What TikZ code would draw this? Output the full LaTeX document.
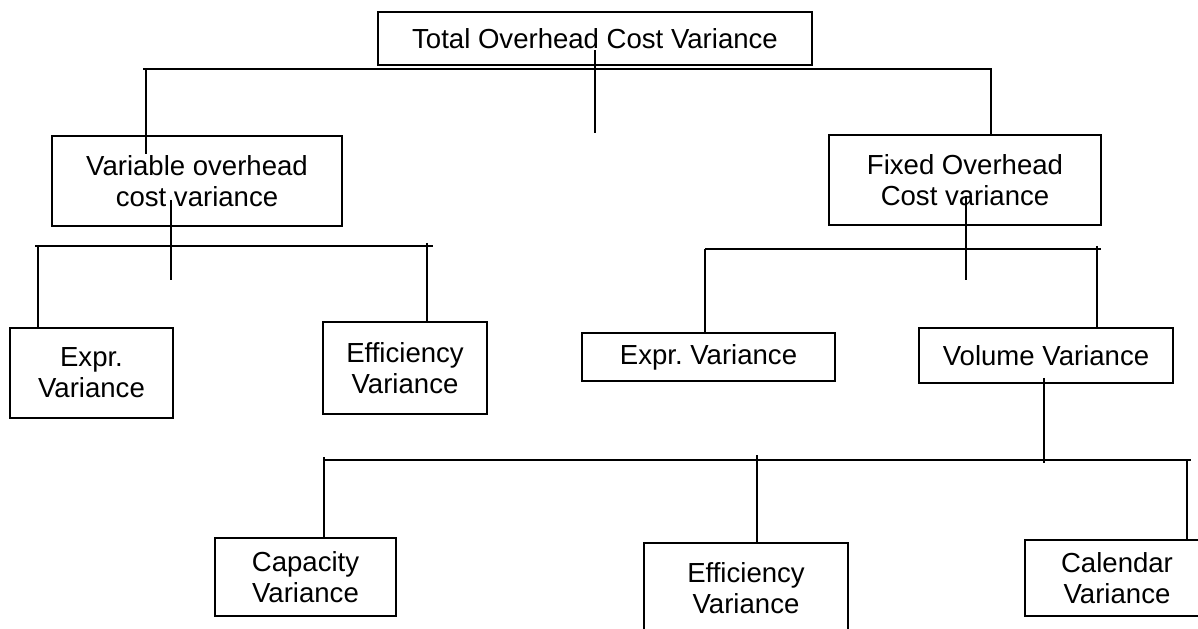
\documentclass[tikz,border=0pt]{standalone}
\usepackage{fontspec}
\setmainfont{Liberation Sans}
\usetikzlibrary{calc}
\frenchspacing

\begin{document}
\begin{tikzpicture}[
  x={(0.025cm,0cm)},
  y={(0cm,-0.025cm)},
  line width=1.3pt,
  font=\fontsize{19.6pt}{22pt}\selectfont,
  box/.style={draw, align=center, inner sep=0pt}
]
  \path[use as bounding box, clip] (0,0) rectangle (1198,629);

  % boxes
  \node[box, minimum width=10.85cm, minimum height=1.33cm] (total) at (595,38.5) {Total Overhead Cost Variance};
  \node[box, minimum width=7.25cm, minimum height=2.25cm] (varoh) at (197,181) {Variable overhead\\cost variance};
  \node[box, minimum width=6.8cm, minimum height=2.25cm] (fixoh) at (965,180) {Fixed Overhead\\Cost variance};
  \node[box, minimum width=4.08cm, minimum height=2.25cm] (vexpr) at (91.5,373) {Expr.\\Variance};
  \node[box, minimum width=4.1cm, minimum height=2.3cm] (veff) at (405,368) {Efficiency\\Variance};
  \node[box, minimum width=6.33cm, minimum height=1.2cm] (fexpr) at (708.5,357) {Expr. Variance};
  \node[box, minimum width=6.35cm, minimum height=1.38cm] (fvol) at (1046,355.5) {Volume Variance};
  \node[box, minimum width=4.53cm, minimum height=1.95cm] (capvar) at (305.5,577) {Capacity\\Variance};
  \node[box, minimum width=5.1cm, minimum height=2.25cm] (effvar) at (746,588) {Efficiency\\Variance};
  \node[box, minimum width=4.6cm, minimum height=1.9cm] (calvar) at (1117,578) {Calendar\\Variance};

  % first level
  \coordinate (bus1w) at (143,69);
  \coordinate (bus1e) at (992,69);
  \coordinate (tap1a) at (146,69);
  \coordinate (tap1b) at (991,69);
  \draw (bus1w) -- (bus1e);
  \draw ($(total.center)+(0,12)$) -- ++(0,83);
  \draw (tap1a) -- ($(tap1a |- varoh.north)+(0,19)$);
  \draw (tap1b) -- (tap1b |- fixoh.north);

  % variable overhead
  \coordinate (bus2w) at (35,246);
  \coordinate (bus2e) at (433,246);
  \coordinate (tap2a) at (38,246);
  \coordinate (tap2b) at (427,243);
  \draw (bus2w) -- (bus2e);
  \draw ($(varoh.center)+(-26,19)$) -- ++(0,80);
  \draw (tap2a) -- (tap2a |- vexpr.north);
  \draw (tap2b) -- (tap2b |- veff.north);

  % fixed overhead
  \coordinate (bus3w) at (705,249);
  \coordinate (bus3e) at (1101,249);
  \coordinate (tap3a) at (705,249);
  \coordinate (tap3b) at (1097,246);
  \draw (bus3w) -- (bus3e);
  \draw ($(fixoh.center)+(1,16)$) -- ++(0,84);
  \draw (tap3a) -- (tap3a |- fexpr.north);
  \draw (tap3b) -- (tap3b |- fvol.north);

  % volume variance
  \coordinate (bus4w) at (324,460);
  \coordinate (bus4e) at (1191,460);
  \coordinate (tap4a) at (324,457);
  \coordinate (tap4b) at (757,455);
  \coordinate (tap4c) at (1187,459);
  \draw (bus4w) -- (bus4e);
  \draw ($(fvol.center)+(-2,22.5)$) -- ++(0,85);
  \draw (tap4a) -- (tap4a |- capvar.north);
  \draw (tap4b) -- (tap4b |- effvar.north);
  \draw (tap4c) -- (tap4c |- calvar.north);
\end{tikzpicture}
\end{document}
